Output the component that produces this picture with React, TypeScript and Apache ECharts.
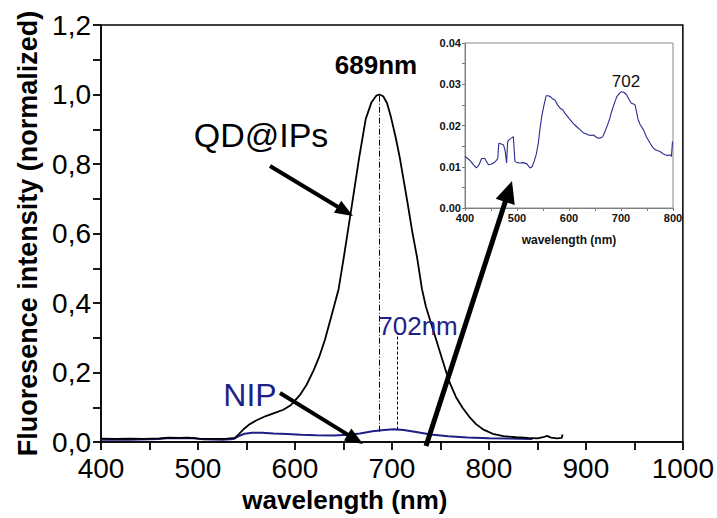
import React, { useEffect, useRef } from "react";
import * as echarts from "echarts";

const FONT = "'Liberation Sans', Arial, Helvetica, sans-serif";

// Main chart: QD@IPs emission (black)
const qdX = [400, 415, 430, 445, 460, 470, 480, 490, 500, 515, 530, 538, 542, 547, 553, 560, 570, 580, 588, 596, 605, 612, 619, 625, 631, 639, 645, 650, 655, 660, 666, 673, 679, 684, 687, 691, 695, 699, 704, 708, 712, 716, 721, 726, 731, 735, 740, 745, 750, 755, 760, 766, 773, 780, 787, 795, 804, 815, 828, 840, 850, 856, 860, 864, 870, 875, 876];
const qdY = [0.010, 0.009, 0.010, 0.009, 0.011, 0.013, 0.012, 0.013, 0.010, 0.009, 0.010, 0.012, 0.022, 0.037, 0.051, 0.062, 0.075, 0.085, 0.093, 0.107, 0.135, 0.165, 0.205, 0.245, 0.295, 0.377, 0.44, 0.525, 0.615, 0.705, 0.815, 0.93, 0.978, 0.997, 1.0, 0.995, 0.975, 0.935, 0.875, 0.82, 0.755, 0.69, 0.605, 0.53, 0.44, 0.39, 0.345, 0.3, 0.255, 0.21, 0.168, 0.13, 0.098, 0.072, 0.051, 0.035, 0.024, 0.017, 0.014, 0.012, 0.011, 0.014, 0.018, 0.013, 0.011, 0.012, 0.022];

// Main chart: NIP emission (navy)
const nipX = [400, 430, 460, 470, 485, 495, 505, 525, 537, 542, 548, 556, 566, 578, 592, 606, 622, 640, 655, 667, 680, 692, 702, 712, 725, 740, 758, 778, 800, 820, 845];
const nipY = [0.007, 0.007, 0.009, 0.012, 0.011, 0.012, 0.008, 0.007, 0.009, 0.017, 0.024, 0.027, 0.027, 0.025, 0.023, 0.021, 0.020, 0.019, 0.021, 0.025, 0.031, 0.035, 0.037, 0.035, 0.029, 0.022, 0.017, 0.013, 0.011, 0.010, 0.009];

// Inset: NIP spectrum zoom
const insetX = [400, 405, 410, 416, 422, 427, 432, 438, 445, 450, 455, 460, 463, 465, 470, 474, 477, 480, 482, 486, 490, 493, 496, 500, 506, 512, 519, 525, 529, 533, 537, 541, 544, 548, 552, 556, 560, 564, 568, 573, 578, 583, 588, 592, 597, 602, 608, 615, 621, 628, 633, 637, 642, 647, 652, 656, 661, 665, 669, 673, 678, 682, 687, 692, 697, 701, 706, 711, 716, 720, 724, 727, 730, 733, 737, 743, 749, 756, 761, 766, 771, 775, 780, 785, 790, 794, 797, 799];
const insetY = [0.0125, 0.012, 0.0115, 0.0105, 0.0097, 0.0105, 0.012, 0.012, 0.0105, 0.0106, 0.0109, 0.0115, 0.012, 0.0157, 0.0155, 0.0153, 0.014, 0.0109, 0.0161, 0.0167, 0.017, 0.0173, 0.0113, 0.011, 0.0109, 0.011, 0.0107, 0.0097, 0.01, 0.0113, 0.013, 0.0157, 0.019, 0.0225, 0.025, 0.0272, 0.0272, 0.027, 0.0265, 0.0262, 0.025, 0.0242, 0.0238, 0.023, 0.0222, 0.0214, 0.0205, 0.0197, 0.019, 0.0182, 0.018, 0.0177, 0.0176, 0.0177, 0.0172, 0.0169, 0.017, 0.0173, 0.0185, 0.0198, 0.0215, 0.0234, 0.0253, 0.027, 0.0278, 0.0282, 0.028, 0.0274, 0.0262, 0.0254, 0.0252, 0.025, 0.0232, 0.0214, 0.0202, 0.019, 0.0172, 0.0157, 0.0147, 0.0141, 0.0139, 0.0137, 0.0132, 0.0129, 0.0127, 0.0129, 0.0125, 0.0161];

const qdPeak = 687;
const nipPeak = 705;

const NAVY = "#1f1f86";

function arrow(x1: number, y1: number, x2: number, y2: number, w: number, hl: number, hw: number) {
  const dx = x2 - x1, dy = y2 - y1;
  const L = Math.hypot(dx, dy);
  const ux = dx / L, uy = dy / L;
  const bx = x2 - ux * hl, by = y2 - uy * hl;
  const px = -uy, py = ux;
  return [
    { type: "line", z: 100, shape: { x1, y1, x2: bx + ux * 2, y2: by + uy * 2 }, style: { stroke: "#000", lineWidth: w } },
    {
      type: "polygon", z: 100,
      shape: { points: [[x2, y2], [bx + (px * hw) / 2, by + (py * hw) / 2], [bx - (px * hw) / 2, by - (py * hw) / 2]] },
      style: { fill: "#000" },
    },
  ];
}

function txt(text: string, x: number, y: number, size: number, color: string, weight: string = "normal") {
  return {
    type: "text", z: 100, x, y,
    style: { text, fill: color, fontSize: size, fontWeight: weight, fontFamily: FONT, align: "center", verticalAlign: "middle" },
  };
}

// label only every second tick (ticks are at half-steps to draw minor marks)
const everyOther = (v: number, step: number, fmt: (v: number) => string) =>
  Math.round(v / step) % 2 === 0 ? fmt(v) : "";

export default function App() {
  const ref = useRef<HTMLDivElement>(null);
  useEffect(() => {
    const chart = echarts.init(ref.current!, null, { renderer: "svg" });
    const option: any = {
      animation: false,
      backgroundColor: "#fff",
      grid: [
        { left: 101, right: 33, top: 25, bottom: 63, show: true, borderColor: "#000", borderWidth: 1.5 },
        { left: 465, right: 44, top: 43, bottom: 310, show: true, borderColor: "#888", borderWidth: 1, z: 5 },
      ],
      xAxis: [
        {
          gridIndex: 0, type: "value", min: 400, max: 1000, interval: 50,
          name: "wavelength (nm)", nameLocation: "middle", nameGap: 28,
          nameTextStyle: { fontSize: 26, fontWeight: "bold", fontFamily: FONT, color: "#000", padding: [0, 94, 0, 0] },
          axisLine: { lineStyle: { color: "#000", width: 1.5 } },
          axisTick: { show: true, length: 8, lineStyle: { color: "#000", width: 1.8 } },
          axisLabel: {
            fontSize: 28, fontFamily: FONT, color: "#000", margin: 12,
            formatter: (v: number) => everyOther(v, 50, (x) => String(x)),
          },
          splitLine: { show: false },
        },
        {
          gridIndex: 1, type: "value", min: 400, max: 800, interval: 50,
          name: "wavelength (nm)", nameLocation: "middle", nameGap: 26,
          nameTextStyle: { fontSize: 12, fontWeight: "bold", fontFamily: FONT, color: "#111" },
          axisLine: { lineStyle: { color: "#777", width: 1 } },
          axisTick: { show: true, length: 3, lineStyle: { color: "#777" } },
          axisLabel: {
            fontSize: 11, fontWeight: "bold", fontFamily: FONT, color: "#111", margin: 4,
            formatter: (v: number) => everyOther(v, 50, (x) => String(x)),
          },
          splitLine: { show: false },
        },
      ],
      yAxis: [
        {
          gridIndex: 0, type: "value", min: 0, max: 1.2, interval: 0.1,
          name: "Fluoresence intensity (normalized)", nameLocation: "middle", nameGap: 60,
          nameTextStyle: { fontSize: 27, fontWeight: "bold", fontFamily: FONT, color: "#000" },
          axisLine: { lineStyle: { color: "#000", width: 1.5 } },
          axisTick: { show: true, length: 8, lineStyle: { color: "#000", width: 1.8 } },
          axisLabel: {
            fontSize: 28, fontFamily: FONT, color: "#000", margin: 10,
            formatter: (v: number) => everyOther(v, 0.1, (x) => x.toFixed(1).replace(".", ",")),
          },
          splitLine: { show: false },
        },
        {
          gridIndex: 1, type: "value", min: 0, max: 0.04, interval: 0.005,
          axisLine: { lineStyle: { color: "#777", width: 1 } },
          axisTick: { show: true, length: 3, lineStyle: { color: "#777" } },
          axisLabel: {
            fontSize: 11, fontWeight: "bold", fontFamily: FONT, color: "#111", margin: 4,
            formatter: (v: number) => everyOther(v, 0.005, (x) => x.toFixed(2)),
          },
          splitLine: { show: false },
        },
      ],
      series: [
        {
          name: "NIP", type: "line", xAxisIndex: 0, yAxisIndex: 0, symbol: "none", z: 2,
          data: nipX.map((x, i) => [x, nipY[i]]),
          lineStyle: { color: NAVY, width: 2 },
          markLine: {
            silent: true, symbol: ["none", "none"], label: { show: false },
            lineStyle: { color: "#000", width: 1, type: [3, 2] },
            data: [[{ coord: [nipPeak, 0.036] }, { coord: [nipPeak, 0.315] }]],
          },
        },
        {
          name: "QD@IPs", type: "line", xAxisIndex: 0, yAxisIndex: 0, symbol: "none", z: 3,
          data: qdX.map((x, i) => [x, qdY[i]]),
          lineStyle: { color: "#000", width: 1.8 },
          markLine: {
            silent: true, symbol: ["none", "none"], label: { show: false },
            lineStyle: { color: "#000", width: 1, type: [6, 2, 1, 2] },
            data: [[{ coord: [qdPeak, 0.03] }, { coord: [qdPeak, 1.0] }]],
          },
        },
        {
          name: "NIP inset", type: "line", xAxisIndex: 1, yAxisIndex: 1, symbol: "none", z: 6,
          data: insetX.map((x, i) => [x, insetY[i]]),
          lineStyle: { color: "#2b2b8f", width: 1.1 },
        },
      ],
      graphic: [
        txt("689nm", 376, 65, 26, "#000", "bold"),
        txt("702nm", 418, 326, 26, NAVY),
        txt("QD@IPs", 261, 135, 34, "#000"),
        txt("NIP", 250, 395, 32, NAVY),
        txt("702", 626, 81, 17, "#111"),
        ...arrow(270, 166, 353, 216, 4, 18, 14),
        ...arrow(280, 393, 363, 444, 4, 18, 14),
        ...arrow(426, 446, 512, 181, 5, 22, 20),
      ],
    };
    chart.setOption(option);
    return () => chart.dispose();
  }, []);
  return <div ref={ref} style={{ position: "fixed", left: 0, top: 0, width: 717, height: 518 }} />;
}
